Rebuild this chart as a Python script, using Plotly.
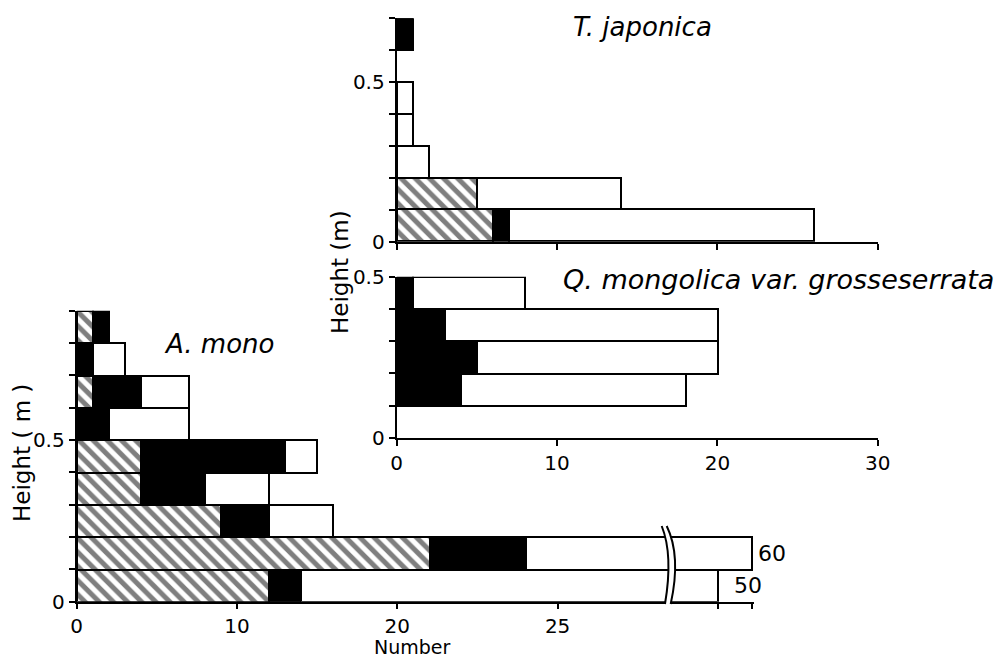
import plotly.graph_objects as go

# ---------------- data ----------------
# height classes (m), class mid-points
A_classes = [0.05, 0.15, 0.25, 0.35, 0.45, 0.55, 0.65, 0.75, 0.85]
A_hatched = [12, 22, 9, 4, 4, 0, 1, 0, 1]
A_black = [2, 6, 3, 4, 9, 2, 3, 1, 1]
A_white = [36, 32, 4, 4, 2, 5, 3, 2, 0]

T_classes = [0.05, 0.15, 0.25, 0.35, 0.45, 0.55, 0.65]
T_hatched = [6, 5, 0, 0, 0, 0, 0]
T_black = [1, 0, 0, 0, 0, 0, 1]
T_white = [19, 9, 2, 1, 1, 0, 0]

Q_classes = [0.05, 0.15, 0.25, 0.35, 0.45]
Q_black = [0, 4, 5, 3, 1]
Q_white = [0, 14, 15, 17, 7]

A_xticks = [0, 10, 20, 30]
A_xticklabels = ["0", "10", "20", "25"]
A_break_ticks = [50, 60]
panel_xticks = [0, 10, 20, 30]

# ---------------- helpers ----------------
W, H = 1002, 658
FONT = "DejaVu Sans"


def fx(p):
    return p / W


def fy(p):
    return 1 - p / H


def nz(vals):
    return [v if v else None for v in vals]


LINE = dict(color="black", width=2)
HATCH = dict(shape="\\", fgcolor="black", bgcolor="white", size=10, solidity=0.5)

fig = go.Figure()


def add_stack(xa, ya, ys, hatched, black, white, bw=0.1):
    if hatched is not None:
        fig.add_trace(go.Bar(orientation="h", y=ys, x=nz(hatched), width=bw,
                             xaxis=xa, yaxis=ya,
                             marker=dict(color="white", line=LINE, pattern=HATCH),
                             hoverinfo="skip"))
    fig.add_trace(go.Bar(orientation="h", y=ys, x=nz(black), width=bw,
                         xaxis=xa, yaxis=ya,
                         marker=dict(color="black", line=LINE), hoverinfo="skip"))
    fig.add_trace(go.Bar(orientation="h", y=ys, x=nz(white), width=bw,
                         xaxis=xa, yaxis=ya,
                         marker=dict(color="white", line=LINE), hoverinfo="skip"))


# A. mono, left segment and right (after break) segment
add_stack("x", "y", A_classes, A_hatched, A_black, A_white)
add_stack("x2", "y", A_classes, A_hatched, A_black, A_white)
# T. japonica
add_stack("x3", "y3", T_classes, T_hatched, T_black, T_white)
# Q. mongolica
add_stack("x4", "y4", Q_classes, None, Q_black, Q_white)

TICKFONT = dict(size=20, color="black", family=FONT)
axis_common = dict(showline=True, linecolor="black", linewidth=2, ticks="outside",
                   ticklen=6, tickwidth=2, tickcolor="black", showgrid=False,
                   zeroline=False, tickfont=TICKFONT, automargin=False)

px_per_unit = 16.03
x1_left, x1_right = 76.7, 668.0
x2_left, x2_right = 670.0, 754.0
x2_px_per_unit = 3.4
x2_lo = 50 - (718 - x2_left) / x2_px_per_unit
x2_hi = 60 + (x2_right - 752) / x2_px_per_unit

fig.update_layout(
    width=W, height=H,
    margin=dict(l=0, r=0, t=0, b=0, pad=0, autoexpand=False),
    paper_bgcolor="white", plot_bgcolor="white",
    barmode="stack", bargap=0, showlegend=False,
    font=dict(family=FONT, color="black"),
    xaxis=dict(axis_common, domain=[fx(x1_left), fx(x1_right)],
               range=[0, (x1_right - x1_left) / px_per_unit], anchor="y",
               tickvals=A_xticks, ticktext=A_xticklabels, ticklen=5),
    xaxis2=dict(axis_common, domain=[fx(x2_left), fx(x2_right)],
                range=[x2_lo, x2_hi], anchor="y", ticklen=5,
                tickvals=A_break_ticks, ticktext=["", ""]),
    yaxis=dict(axis_common, domain=[fy(601.7), fy(310.7)], range=[0, 0.9], anchor="x",
               tickvals=[i / 10 for i in range(10)],
               ticktext=["0", "", "", "", "", "0.5", "", "", "", ""]),
    xaxis3=dict(axis_common, domain=[fx(396.7), fx(877.7)], range=[0, 30], anchor="y3",
                tickvals=panel_xticks, showticklabels=False),
    yaxis3=dict(axis_common, domain=[fy(241.7), fy(18.3)], range=[0, 0.7], anchor="x3",
                tickvals=[i / 10 for i in range(8)],
                ticktext=["0", "", "", "", "", "0.5", "", ""]),
    xaxis4=dict(axis_common, domain=[fx(396.7), fx(877.7)], range=[0, 30], anchor="y4",
                tickvals=panel_xticks, ticktext=[str(v) for v in panel_xticks]),
    yaxis4=dict(axis_common, domain=[fy(437.7), fy(276.7)], range=[0, 0.5], anchor="x4",
                tickvals=[i / 10 for i in range(6)],
                ticktext=["0", "", "", "", "", "0.5"]),
)

# ---------------- text ----------------
ann = []
ann.append(dict(text="<i>T. japonica</i>", xref="paper", yref="paper",
                x=fx(571), y=fy(27), xanchor="left", yanchor="middle",
                showarrow=False, font=dict(size=26, family=FONT)))
ann.append(dict(text="<i>Q. mongolica var. grosseserrata</i>", xref="paper", yref="paper",
                x=fx(561), y=fy(280), xanchor="left", yanchor="middle",
                showarrow=False, font=dict(size=27, family=FONT)))
ann.append(dict(text="<i>A. mono</i>", xref="paper", yref="paper",
                x=fx(162), y=fy(344), xanchor="left", yanchor="middle",
                showarrow=False, font=dict(size=26, family=FONT)))
ann.append(dict(text="Number", xref="paper", yref="paper",
                x=fx(412), y=fy(647), xanchor="center", yanchor="middle", borderpad=0,
                showarrow=False, font=dict(size=19, family=FONT)))
ann.append(dict(text="Height ( m )", xref="paper", yref="paper",
                x=fx(22), y=fy(453), xanchor="center", yanchor="middle", textangle=-90,
                showarrow=False, font=dict(size=23, family=FONT)))
ann.append(dict(text="Height (m)", xref="paper", yref="paper",
                x=fx(340), y=fy(272), xanchor="center", yanchor="middle", textangle=-90,
                showarrow=False, font=dict(size=23, family=FONT)))
# totals of the broken bars
for i, shift in ((0, 14), (1, 4)):
    total = A_hatched[i] + A_black[i] + A_white[i]
    ann.append(dict(text=str(total), xref="x2", yref="y", x=total, y=A_classes[i],
                    xanchor="left", yanchor="middle", xshift=shift,
                    showarrow=False, font=dict(size=22, family=FONT)))
fig.update_layout(annotations=ann)

# ---------------- axis break marks ----------------
def P(x, y):
    return f"{fx(x):.5f},{fy(y):.5f}"

band = (f"M {P(661.7, 526)} Q {P(673.3, 555)} {P(665, 604)} "
        f"L {P(670.7, 604)} Q {P(681.3, 555.8)} {P(666.7, 526)} Z")
left_c = f"M {P(661.7, 526)} Q {P(673.3, 555)} {P(665, 604)}"
right_c = f"M {P(666.7, 526)} Q {P(681.3, 555.8)} {P(670.7, 604)}"
shapes = [
    dict(type="path", path=band, xref="paper", yref="paper", fillcolor="white",
         line=dict(width=0), layer="above"),
    dict(type="path", path=left_c, xref="paper", yref="paper",
         line=dict(color="black", width=2), layer="above"),
    dict(type="path", path=right_c, xref="paper", yref="paper",
         line=dict(color="black", width=2), layer="above"),
]
fig.update_layout(shapes=shapes)

fig.write_html("out.html", config={"displayModeBar": False},
               post_script="document.body.style.margin='0';document.body.style.overflow='hidden';")
